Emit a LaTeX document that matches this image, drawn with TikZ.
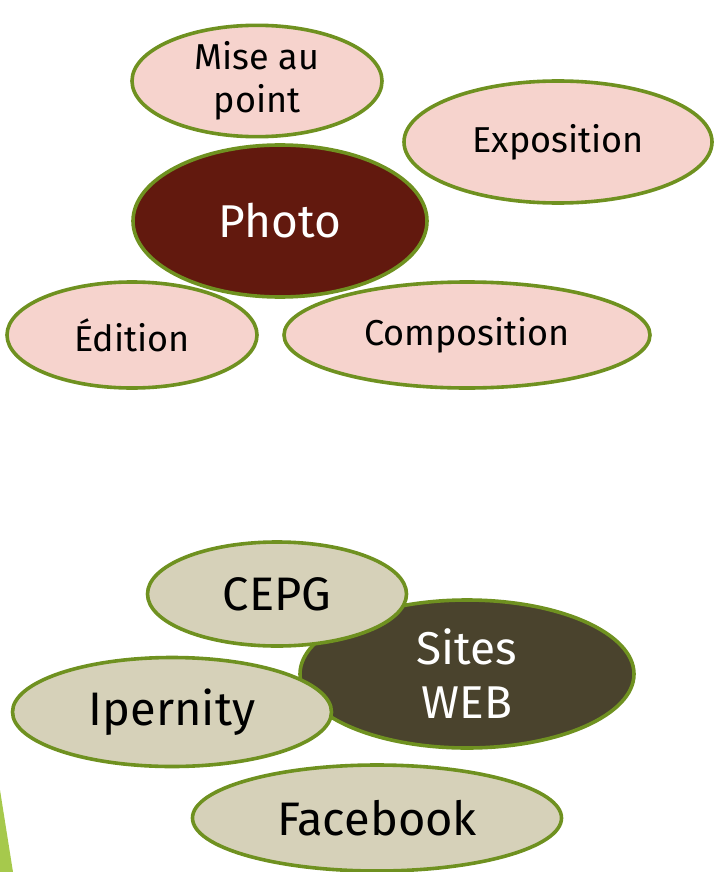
\documentclass[tikz,border=0pt]{standalone}
\usepackage{fontspec}
\setmainfont{Fira Sans}
\usepackage{tikz}
\usetikzlibrary{%
  shapes.geometric%
}
\definecolor{vertbord}{HTML}{6F9120}
\definecolor{rose}{HTML}{F6D3CD}
\definecolor{bordeaux}{HTML}{62190E}
\definecolor{beige}{HTML}{D6D1B9}
\definecolor{brunolive}{HTML}{4A432D}
\definecolor{vertclair}{HTML}{A6C94C}

\begin{document}
\begin{tikzpicture}[x=1pt,y=-1pt,
    bulle/.style={ellipse,draw=vertbord,line width=3.6pt,inner sep=0pt,align=center,
      font=\fontsize{36}{43}\selectfont},
    bulle rose/.style={bulle,fill=rose},
    bulle beige/.style={bulle,fill=beige,font=\fontsize{47}{56}\selectfont},
    centre/.style={bulle,text=white,font=\fontsize{46}{54}\selectfont}]
    \useasboundingbox (0,0) rectangle (713,872);
    % bande verte du gabarit
    \fill [vertclair] (0,790) -- (13,872) -- (0,872) -- cycle;
    % groupe photo
    \node [bulle rose,minimum width=250,minimum height=102] (mise) at (257,81) {Mise au\\point};
    \node [bulle rose,minimum width=308,minimum height=122] (expo) at (558,142) {Exposition};
    \node [centre,fill=bordeaux,minimum width=294,minimum height=152] (photo) at (280,221) {Photo};
    \node [bulle rose,minimum width=250,minimum height=106] (edition) at (132,335) {Édition};
    \node [bulle rose,minimum width=366,minimum height=106] (compo) at (467,335) {Composition};
    % groupe web
    \node [centre,fill=brunolive,minimum width=334,minimum height=148] (web) at (467,674) {Sites\\WEB};
    \node [bulle beige,minimum width=259,minimum height=104] (cepg) at (277,594) {CEPG};
    \node [bulle beige,minimum width=319,minimum height=109] (ipernity) at (172,712) {Ipernity};
    \node [bulle beige,minimum width=369,minimum height=106] (facebook) at (377,818) {Facebook};
  \end{tikzpicture}
\end{document}
